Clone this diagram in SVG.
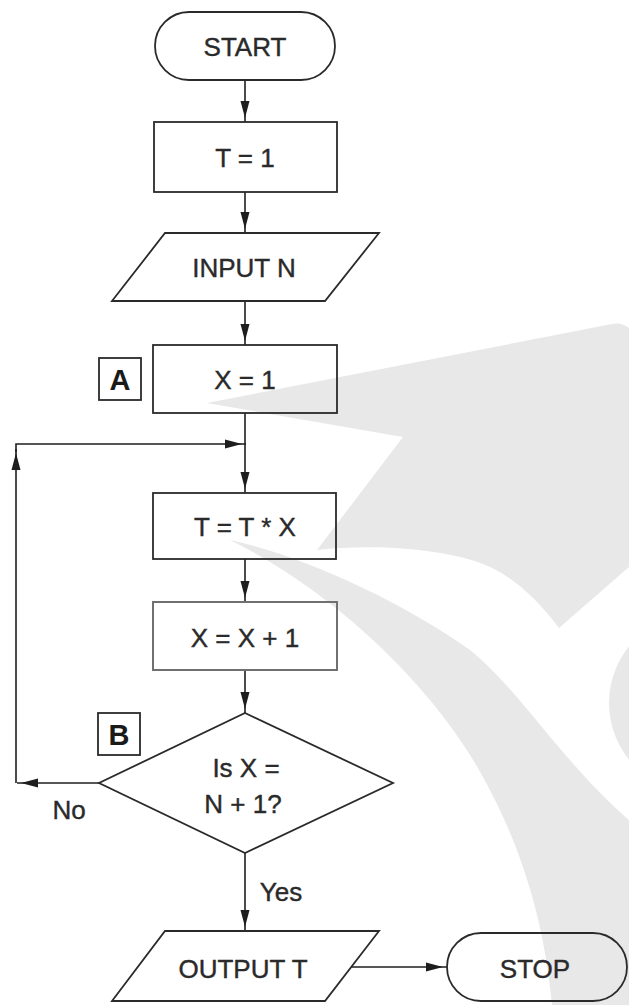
<svg xmlns="http://www.w3.org/2000/svg" width="629" height="1005" viewBox="0 0 629 1005">
<style>
.bg{fill:#ffffff}
.wm{fill:#e8e8e8;stroke:none}
.shape{fill:none;stroke:#2a2a2a;stroke-width:1.8}
.shape2{fill:none;stroke:#707070;stroke-width:2}
.conn{fill:none;stroke:#1e1e1e;stroke-width:1.6}
.t{font-family:"Liberation Sans",Arial,sans-serif;font-size:26px;fill:#2a2a2a;stroke:#2a2a2a;stroke-width:0.4;text-anchor:middle}
.lbl{font-family:"Liberation Sans",Arial,sans-serif;font-size:29px;font-weight:bold;fill:#1a1a1a;text-anchor:middle}
</style>
<defs>
<marker id="ah" markerUnits="userSpaceOnUse" markerWidth="24" markerHeight="12" viewBox="0 0 24 12" refX="21" refY="6" orient="auto">
<path d="M0,1.5 L17,6 L0,10.5 Z" fill="#1e1e1e"/>
</marker>
</defs>
<rect class="bg" x="0" y="0" width="629" height="1005"/>
<g id="watermark">
<path class="wm" d="M207,403 L612,324 Q621,322 629,328 L629,567 L559,628 C540,603 520,583 496,570 C460,550 380,543 317,550 L403,437 Z"/>
<path class="wm" d="M230,540 C300,555 400,600 470,650 C520,690 560,760 629,820 L629,1005 L552,1005 C545,930 525,850 479,770 C440,700 350,600 230,540 Z"/>
<circle class="wm" cx="699" cy="703" r="90"/>
</g>
<g id="connectors">
<line class="conn" x1="245" y1="80" x2="245" y2="122" marker-end="url(#ah)"/>
<line class="conn" x1="245" y1="192" x2="245" y2="233" marker-end="url(#ah)"/>
<line class="conn" x1="245" y1="301" x2="245" y2="345" marker-end="url(#ah)"/>
<line class="conn" x1="245" y1="413" x2="245" y2="493" marker-end="url(#ah)"/>
<line class="conn" x1="245" y1="559" x2="245" y2="602" marker-end="url(#ah)"/>
<line class="conn" x1="245" y1="670" x2="245" y2="713" marker-end="url(#ah)"/>
<line class="conn" x1="245" y1="853" x2="245" y2="931" marker-end="url(#ah)"/>
<line class="conn" x1="351" y1="967" x2="447" y2="967" marker-end="url(#ah)"/>
<line class="conn" x1="99" y1="783" x2="17" y2="783" marker-end="url(#ah)"/>
<line class="conn" x1="16" y1="783" x2="16" y2="449" marker-end="url(#ah)"/>
<path class="conn" d="M16,452 V444 H246" marker-end="url(#ah)"/>
</g>
<g id="start">
<rect class="shape" x="155" y="12" width="180" height="68" rx="34" ry="34"/>
<text class="t" x="245" y="56">START</text>
</g>
<g id="t1">
<rect class="shape" x="154" y="122" width="183" height="70"/>
<text class="t" x="245" y="167">T = 1</text>
</g>
<g id="input">
<polygon class="shape" points="165,233 379,233 325,301 112,301"/>
<text class="t" x="244" y="277">INPUT N</text>
</g>
<g id="x1">
<rect class="shape" x="153" y="345" width="184" height="68"/>
<text class="t" x="245" y="389">X = 1</text>
</g>
<g id="labelA">
<rect class="shape" x="99" y="358" width="42" height="42"/>
<text class="lbl" x="120" y="390">A</text>
</g>
<g id="ttx">
<rect class="shape" x="153" y="493" width="183" height="66"/>
<text class="t" x="245" y="536">T = T * X</text>
</g>
<g id="xx1">
<rect class="shape2" x="153" y="602" width="184" height="68"/>
<text class="t" x="245" y="647">X = X + 1</text>
</g>
<g id="decision">
<polygon class="shape" points="245,713 393,783 245,853 99,783"/>
<text class="t" x="246" y="777">Is X =</text>
<text class="t" x="243" y="813">N + 1?</text>
</g>
<g id="labelB">
<rect class="shape" x="98" y="713" width="42" height="42"/>
<text class="lbl" x="119" y="745">B</text>
</g>
<g id="labels">
<text class="t" x="69" y="819">No</text>
<text class="t" x="281" y="901">Yes</text>
</g>
<g id="output">
<polygon class="shape" points="165,931 379,931 325,1001 112,1001"/>
<text class="t" x="243" y="978">OUTPUT T</text>
</g>
<g id="stop">
<rect class="shape" x="447" y="933" width="180" height="68" rx="34" ry="34"/>
<text class="t" x="535" y="978">STOP</text>
</g>
</svg>
